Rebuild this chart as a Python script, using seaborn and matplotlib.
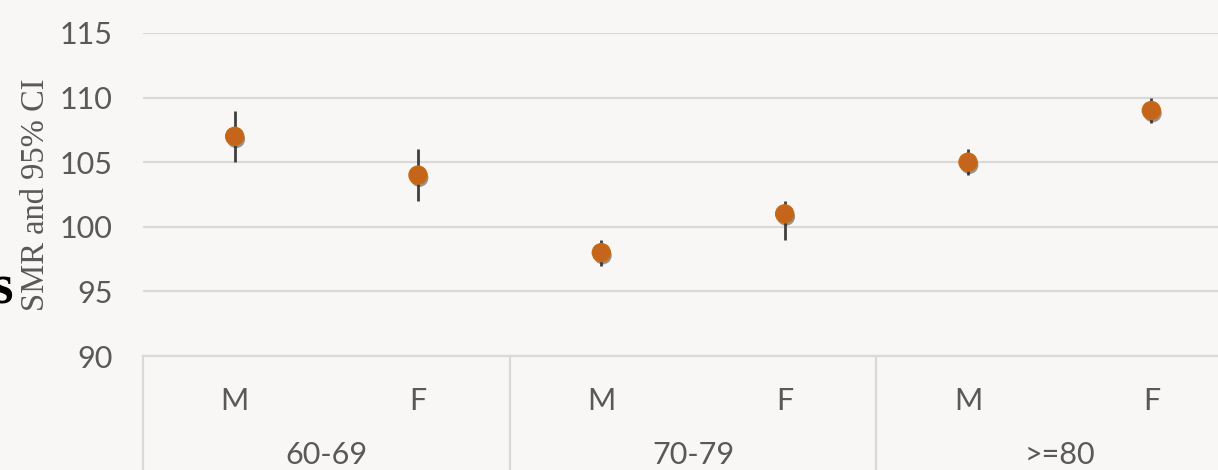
import pandas as pd
import numpy as np
import seaborn as sns
import matplotlib.pyplot as plt
import matplotlib.transforms as mtransforms
import matplotlib.patheffects as pe

# data
age_groups = ["60-69", "60-69", "70-79", "70-79", ">=80", ">=80"]
sexes = ["M", "F", "M", "F", "M", "F"]
smr = [107, 104, 98, 101, 105, 109]
ci_low = [105, 102, 97, 99, 104, 108]
ci_high = [109, 106, 99, 102, 106, 110]
group_names = ["60-69", "70-79", ">=80"]

df = pd.DataFrame({"age": age_groups, "sex": sexes, "smr": smr,
                   "lo": ci_low, "hi": ci_high})
df["cat"] = df["age"] + " " + df["sex"]

sns.set_theme(style="white")
bg = "#f8f7f5"
plt.rcParams["font.family"] = ["Lato", "DejaVu Sans"]

fig = plt.figure(figsize=(12.18, 4.70), dpi=100, facecolor=bg)
ax = fig.add_axes([143 / 1218, 1 - 356 / 470, 1100 / 1218, 323 / 470])
ax.set_facecolor(bg)

# error bars
xpos = np.arange(len(df))
ax.vlines(xpos, df["lo"], df["hi"], color="#3f3f3f", lw=2, zorder=3)

sns.pointplot(data=df, x="cat", y="smr", linestyle="none", errorbar=None,
              color="#c5651c", markers="o", markersize=13,
              markeredgecolor="#c86a10", markeredgewidth=1, ax=ax)
for ln in ax.lines:
    ln.set_path_effects([pe.SimplePatchShadow(offset=(1, -2), alpha=0.5, shadow_rgbFace="#333333"),
                         pe.Normal()])
    ln.set_zorder(4)

ax.set_ylim(90, 115)
ax.set_yticks([90, 95, 100, 105, 110, 115])
ax.set_xlim(-0.5, 5.5)
ax.yaxis.grid(True, color="#d9d9d9", lw=1.6)
ax.set_axisbelow(True)
for s in ["top", "right", "left"]:
    ax.spines[s].set_visible(False)
ax.spines["bottom"].set_color("#d9d9d9")
ax.spines["bottom"].set_linewidth(1.6)

ax.set_xticks(xpos)
ax.set_xticklabels(sexes)
ax.set_xlabel("")
ax.tick_params(axis="x", length=0, pad=22, labelsize=22, labelcolor="#595959")
ax.tick_params(axis="y", length=0, pad=22, labelsize=22, labelcolor="#595959")

ax.set_ylabel("SMR and 95% CI", family="Liberation Serif", fontsize=23.5,
              color="#595959", labelpad=6)

# category table below the axis
trans = mtransforms.blended_transform_factory(ax.transData, ax.transAxes)
for xs in [-0.5, 1.5, 3.5, 5.5]:
    ax.plot([xs, xs], [0, -0.4], color="#d9d9d9", lw=1.6, transform=trans, clip_on=False)
for i, g in enumerate(group_names):
    ax.text(2 * i + 0.5, -0.307, g, transform=trans, ha="center", va="center",
            fontsize=22, color="#595959")

# leftover of slide text, clipped at the left edge like in the original
fig.text(13 / 1218, 1 - 290 / 470, "s", family="Liberation Serif", fontweight="bold",
         fontsize=40, ha="right", va="center", color="black")

fig.savefig("out.png", dpi=100, facecolor=bg)
